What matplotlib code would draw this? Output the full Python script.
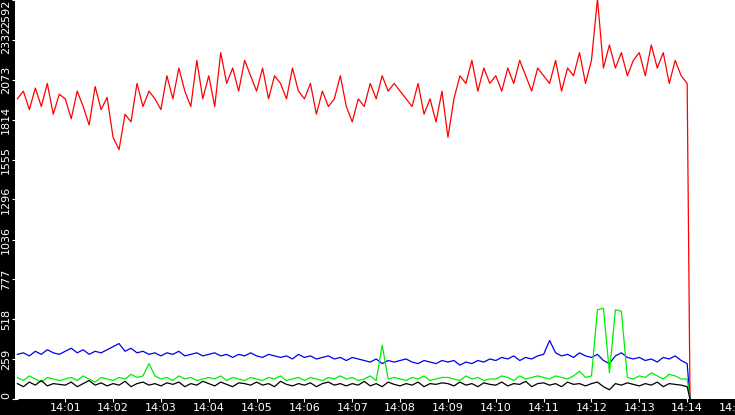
import numpy as np
from matplotlib import pyplot as plt
from matplotlib.ticker import FuncFormatter

# minutes after 14:00, 8 samples per minute, plus the final drop
t = list(np.arange(0, 14.001, 0.125)) + [14.06]

red = [1950,2000,1880,2020,1900,2050,1850,1980,
       1950,1820,2000,1900,1780,2030,1880,1960,
       1700,1620,1850,1800,2050,1900,2000,1950,
       1880,2100,1950,2150,2000,1900,2200,1950,
       2100,1900,2250,2050,2150,2000,2200,2100,
       2000,2150,1950,2100,2050,1950,2150,2000,
       1950,2050,1850,2000,1900,1950,2100,1900,
       1800,1950,1900,2050,1950,2100,2000,2050,
       2000,1950,1900,2050,1850,1950,1800,2000,
       1700,1950,2100,2050,2200,2000,2150,2050,
       2100,2000,2150,2050,2200,2100,2000,2150,
       2100,2050,2200,2000,2150,2100,2250,2050,
       2200,2600,2150,2300,2150,2250,2100,2200,
       2250,2100,2300,2150,2250,2050,2200,2100,
       2050,0]
blue = [290,300,280,310,290,320,300,290,
        310,330,300,320,290,310,300,320,
        340,360,310,330,300,310,290,300,
        280,300,290,310,280,290,300,280,
        290,300,280,290,270,290,280,300,
        280,270,290,280,270,280,260,290,
        270,280,260,270,280,260,270,250,
        270,260,250,240,260,230,250,240,
        250,260,240,230,250,240,230,250,
        240,250,220,240,230,250,240,260,
        250,270,260,280,250,270,260,280,
        290,380,300,280,290,270,300,280,
        270,290,250,230,280,300,270,260,
        270,250,260,240,270,260,280,250,
        230,0]
green = [140,120,150,130,110,140,130,120,
         130,140,120,150,130,110,140,130,
         120,140,130,160,140,150,230,150,
         130,140,120,150,130,140,120,130,
         140,130,150,120,140,130,120,140,
         130,120,140,130,150,120,130,140,
         120,140,130,120,140,130,150,130,
         140,120,130,150,120,350,130,140,
         130,120,140,130,150,120,130,140,
         140,130,120,150,130,140,120,130,
         130,150,140,120,150,130,140,150,
         140,130,150,140,130,150,180,140,
         150,580,590,170,580,570,140,130,
         150,140,170,150,130,160,150,130,
         130,0]
black = [100,80,110,90,120,85,100,95,
         90,110,80,100,120,90,105,85,
         100,90,115,80,100,110,90,100,
         85,105,95,110,80,100,90,115,
         100,85,110,95,80,105,100,90,
         110,90,100,80,115,95,85,100,
         90,105,80,100,110,90,100,85,
         100,90,115,85,100,80,110,95,
         85,100,90,110,80,100,95,105,
         100,85,110,90,100,80,105,95,
         90,110,85,100,95,115,80,100,
         105,90,100,80,110,95,100,85,
         100,110,80,60,100,90,105,95,
         85,100,90,110,80,100,95,90,
         80,0]

yticks = [0,259,518,777,1036,1296,1555,1814,2073,2332,2592]

fig = plt.figure(figsize=(7.35, 4.15), dpi=100, facecolor='black')
ax = fig.add_axes([15/735, 16/415, 720/735, 399/415])
ax.set_facecolor('white')

ax.plot(t, red, color='red', linewidth=0.9)
ax.plot(t, blue, color='#0000ee', linewidth=0.9)
ax.plot(t, green, color='#00ee00', linewidth=0.9)
ax.plot(t, black, color='black', linewidth=0.9)

ax.set_xlim(-0.05, 15.0)
ax.set_ylim(0, 2592)
ax.set_yticks(yticks)
ax.set_xticks(range(1, 16))
ax.xaxis.set_major_formatter(FuncFormatter(lambda v, p: '14:%02d' % int(round(v))))
ylabs = ax.get_yticklabels()
for lab in ylabs:
    lab.set_rotation(90)
    lab.set_va('center')
ylabs[-1].set_va('top')
ylabs[0].set_va('bottom')
ax.tick_params(colors='white', labelsize=8, length=4, direction='inout', pad=1)
for s in ax.spines.values():
    s.set_visible(False)

fig.savefig('out.png', dpi=100, facecolor='black')
